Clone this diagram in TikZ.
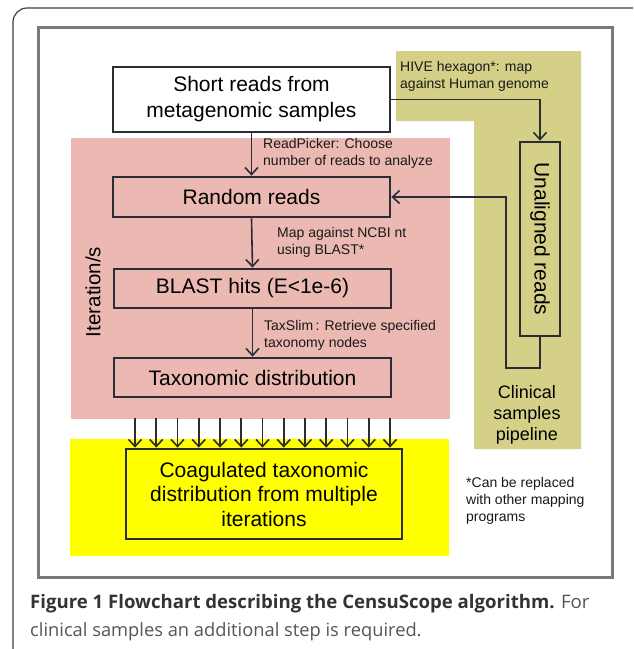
\documentclass[tikz,border=0pt]{standalone}
\usepackage{fontspec}
\setmainfont{Liberation Sans}
\newfontfamily\capfont{Open Sans}
\usetikzlibrary{arrows.meta}
\definecolor{pinkbg}{HTML}{EBB9B2}
\definecolor{olivebg}{HTML}{D4D087}
\definecolor{yelbg}{HTML}{FFFF00}
\definecolor{framegray}{HTML}{747E77}
\definecolor{linedark}{HTML}{2C2C36}
\definecolor{capdark}{HTML}{333333}
\definecolor{capgray}{HTML}{555555}
\tikzset{
  box/.style={draw=linedark, line width=2.8pt, inner sep=0pt, align=center, font=\fontsize{21}{26}\selectfont},
  conn/.style={draw=linedark, line width=1.6pt},
  arr/.style={conn, -{Straight Barb[length=7pt,width=13pt,line width=1.6pt]}},
  lbl/.style={inner sep=0pt, align=left, anchor=north west, font=\fontsize{14}{17}\selectfont, text=black!90},
}
\begin{document}
\begin{tikzpicture}[x=1pt,y=-1pt]
\useasboundingbox (0,0) rectangle (633,649);
\fill[white] (0,0) rectangle (633,649);
\begin{scope}
\clip (0,0) rectangle (633,649);
\draw[black!75, line width=1.2pt, rounded corners=14pt] (13,8) rectangle (720,700);
\end{scope}
\draw[framegray, line width=3pt] (38,27) rectangle (612,577);
% regions
\fill[pinkbg] (71,138) rectangle (450,419);
\fill[olivebg] (396,51) -- (581,51) -- (581,449) -- (474,449) -- (474,121) -- (396,121) -- cycle;
\fill[yelbg] (70,439) rectangle (449,556);
% boxes
\node[box, fill=white, minimum width=277pt, minimum height=65pt] (short) at (251.5,99.5) {Short reads from\\metagenomic samples};
\node[box, minimum width=277pt, minimum height=40pt] (random) at (251.5,197) {Random reads};
\node[box, minimum width=277pt, minimum height=39pt] (blast) at (252.5,288.5) {BLAST hits (E<1e-6)};
\node[box, minimum width=277pt, minimum height=39pt] (tax) at (252.5,377.5) {Taxonomic distribution};
\node[box, minimum width=276pt, minimum height=90pt, font=\fontsize{21}{24.5}\selectfont] (coag) at (264,494) {Coagulated taxonomic\\distribution from multiple\\iterations};
\node[box, minimum width=194pt, minimum height=40pt, rotate=-90] (unal) at (540,239) {Unaligned reads};
% side texts
\node[inner sep=0pt, rotate=90, font=\fontsize{20.5}{24}\selectfont] (iter) at (93,292) {Iteration/s};
\node[inner sep=0pt, align=center, font=\fontsize{18}{21}\selectfont] (clin) at (527,415) {Clinical\\samples\\pipeline};
% labels
\node[lbl] (l1) at (263,138) {ReadPicker: Choose\\number of reads to analyze};
\node[lbl] (l2) at (277,227) {Map against NCBI nt\\using BLAST*};
\node[lbl] (l3) at (264,320) {TaxSlim\,: Retrieve specified\\taxonomy nodes};
\node[lbl] (l4) at (400,61) {HIVE hexagon*: map\\against Human genome};
\node[lbl] (l5) at (466,477) {*Can be replaced\\with other mapping\\programs};
% connectors
\draw[arr] (short.south) -- (random.north);
\draw[arr] (random.south) -- (blast.north);
\draw[arr] (blast.south) -- (tax.north);
\draw[arr] (short.east) -| (unal.west);
\coordinate (c1) at (540,368);
\coordinate (c2) at (506,368);
\draw[arr] (unal.east) -- (c1) -- (c2) |- (random.east);
\foreach \i in {0,...,12}{
  \coordinate (s\i) at ({135+\i*21.25},418);
  \draw[arr] (s\i) -- (s\i |- coag.north);
}
% caption
\node[inner sep=0pt, anchor=west, font=\capfont\fontsize{18.6}{28}\selectfont, text=capdark] (cap1) at (30,604) {\textbf{Figure 1 Flowchart describing the CensuScope algorithm.} \textcolor{capgray}{For}};
\node[inner sep=0pt, anchor=west, font=\capfont\fontsize{18.3}{28}\selectfont, text=capgray] (cap2) at (30,632) {clinical samples an additional step is required.};
\end{tikzpicture}
\end{document}
